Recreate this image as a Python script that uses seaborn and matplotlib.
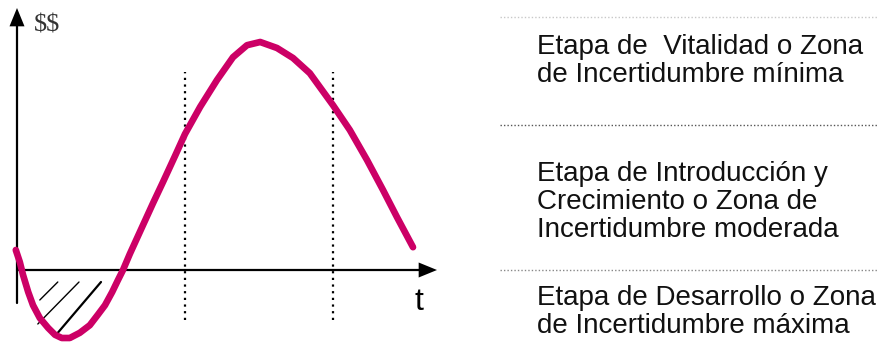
import numpy as np
import pandas as pd
import seaborn as sns
import matplotlib.pyplot as plt

# Curve of the life cycle ($$ vs t)
t_vals = [-0.03, 0.07, 0.15, 0.28, 0.4, 0.57, 0.78, 0.95, 1.12, 1.32, 1.57, 1.82,
          2.02, 2.2, 2.38, 2.52, 2.65, 2.82, 3.08, 3.4, 3.65, 3.95, 4.2, 4.58,
          5.0, 5.4, 5.75, 6.08, 6.5, 6.9, 7.32, 7.9, 8.32, 8.75, 9.15, 9.5, 9.9]
money = [0.5, 0.2, -0.12, -0.55, -0.88, -1.2, -1.45, -1.62, -1.7, -1.7, -1.57, -1.38,
         -1.12, -0.88, -0.55, -0.26, 0.0, 0.4, 0.97, 1.67, 2.2, 2.85, 3.4, 4.08,
         4.75, 5.32, 5.62, 5.7, 5.55, 5.3, 4.92, 4.12, 3.5, 2.75, 2.0, 1.32, 0.57]

# stage boundaries (dotted verticals)
boundaries = [4.2, 7.9]

# hatch strokes in the loss area: (t0, y0, t1, y1, width)
hatch = [(0.57, -0.75, 1.02, -0.3, 1.0),
         (0.52, -1.35, 1.55, -0.3, 1.0),
         (1.02, -1.57, 2.1, -0.3, 1.6)]

stages = [
    "Etapa de  Vitalidad o Zona\nde Incertidumbre mínima",
    "Etapa de Introducción y\nCrecimiento o Zona de\nIncertidumbre moderada",
    "Etapa de Desarrollo o Zona\nde Incertidumbre máxima",
]
stage_y = [61, 202, 312]          # px from top, block centers
sep_y = [17, 125, 270]            # px from top
sep_colors = ["#c8c8c8", "#555555", "#888888"]

sns.set_theme(style="white")
plt.rcParams['font.family'] = ['Liberation Sans', 'DejaVu Sans']
plt.rcParams['text.parse_math'] = False

W, H = 889, 351
fig = plt.figure(figsize=(W / 100, H / 100), dpi=100)
ax = fig.add_axes([0, 0, 450 / W, 1])
ax.axis("off")

# axes with arrows
ax.plot([0, 0], [-0.83, 6.2], color="black", lw=1.6)
ax.plot([0, 10.1], [0, 0], color="black", lw=1.6)
ax.annotate("", xy=(0, 6.55), xytext=(0, 6.1),
            arrowprops=dict(arrowstyle="-|>,head_length=1.1,head_width=0.45",
                            color="black", lw=0, shrinkA=0, shrinkB=0))
ax.annotate("", xy=(10.5, 0), xytext=(10.05, 0),
            arrowprops=dict(arrowstyle="-|>,head_length=1.1,head_width=0.45",
                            color="black", lw=0, shrinkA=0, shrinkB=0))

ax.text(0.42, 6.12, "$$", family="Liberation Serif", fontsize=19,
        color="#333333", ha="left", va="center", parse_math=False)
ax.text(10.05, -0.8, "t", fontsize=23, color="black", ha="center", va="center")

for b in boundaries:
    ax.plot([b, b], [-1.25, 4.95], color="black", lw=1.6, ls=(0, (1, 2)))

for t0, y0, t1, y1, w in hatch:
    ax.plot([t0, t1], [y0, y1], color="black", lw=w)

df = pd.DataFrame({"t": t_vals, "money": money})
sns.lineplot(data=df, x="t", y="money", ax=ax, color="#cc0066", lw=4.8,
             sort=False, estimator=None, solid_joinstyle="round")
ax.set_xlim(-17 / 40, 433 / 40)
ax.set_ylim(-81 / 40, 270 / 40)

# right-hand legend of stages
for y, c in zip(sep_y, sep_colors):
    fig.add_artist(plt.Line2D([500 / W, 878 / W], [1 - y / H, 1 - y / H],
                              color=c, lw=1.0, ls=(0, (1, 1.5))))
for txt, y in zip(stages, stage_y):
    fig.text(537 / W, 1 - y / H, txt, fontsize=20, ha="left", va="center",
             linespacing=1.12, color="#111111")

fig.savefig("out.png", dpi=100)
